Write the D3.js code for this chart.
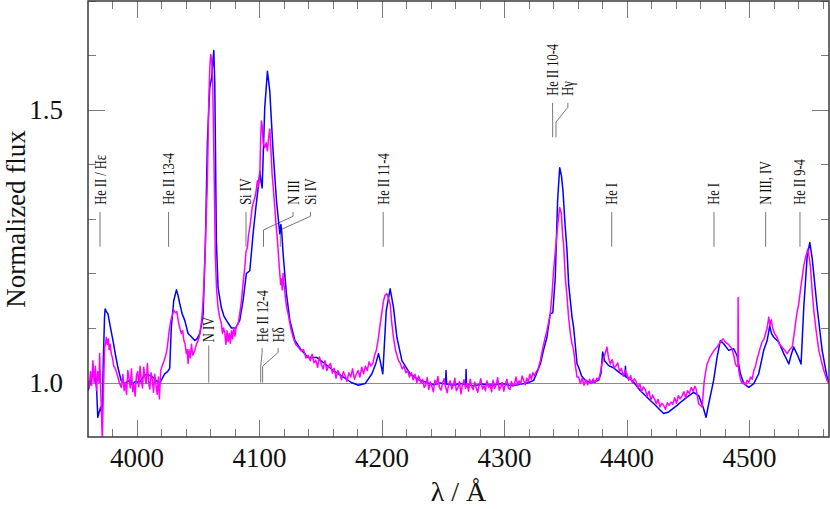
<!DOCTYPE html>
<html>
<head>
<meta charset="utf-8">
<script src="https://d3js.org/d3.v7.min.js"></script>
<style>
  body { margin: 0; background: #fff; }
  svg { display: block; font-family: 'Liberation Serif', 'Times New Roman', serif; }
</style>
</head>
<body>
<script>
// ---- data: [wavelength (A), normalized flux] ----
var blueSpec = [[3960,0.985],[3962,1.0],[3964,1.016],[3966,1.01],[3967,0.99],[3968,0.936],[3969,0.945],[3970.4,0.955],[3971.5,0.94],[3972.5,1.04],[3973.5,1.12],[3974,1.135],[3975,1.13],[3976.3,1.126],[3978,1.105],[3980.4,1.077],[3982.5,1.05],[3984.5,1.027],[3987,1.004],[3990,0.998],[3993,1.003],[3996,0.997],[3999,1.002],[4002,1.0],[4005,1.01],[4008,1.016],[4011,1.012],[4014,1.008],[4016,1.003],[4018.6,0.998],[4020,1.005],[4022.6,1.016],[4025,1.02],[4026.7,1.026],[4028,1.1],[4030,1.15],[4032.2,1.17],[4033.5,1.16],[4034.9,1.145],[4037,1.125],[4039,1.114],[4041.7,1.09],[4044,1.085],[4047.2,1.077],[4049,1.08],[4051.3,1.09],[4053,1.11],[4054,1.126],[4055.9,1.26],[4057.5,1.443],[4059.4,1.541],[4061,1.56],[4062,1.59],[4062.7,1.609],[4063.5,1.55],[4064,1.443],[4064.8,1.26],[4066.2,1.174],[4068.9,1.137],[4071,1.122],[4073,1.114],[4077.1,1.1],[4080.5,1.1],[4083.9,1.114],[4086.6,1.15],[4089.3,1.2],[4092.1,1.205],[4094.8,1.273],[4097,1.32],[4098.9,1.357],[4100.3,1.388],[4101.2,1.37],[4102.2,1.357],[4104.3,1.504],[4106.5,1.571],[4108.4,1.535],[4111.1,1.425],[4113.9,1.333],[4116.6,1.273],[4117.5,1.29],[4118.2,1.275],[4119.3,1.236],[4122,1.163],[4124.8,1.114],[4128.9,1.077],[4134.3,1.059],[4139.7,1.046],[4146.8,1.046],[4153,1.035],[4160.4,1.022],[4168.6,1.01],[4175,1.0],[4180.8,0.995],[4186.3,0.998],[4191.8,1.016],[4195,1.035],[4197.2,1.053],[4198.5,1.04],[4200.7,1.016],[4203.5,1.132],[4206.7,1.172],[4209.4,1.138],[4212.2,1.083],[4216.3,1.04],[4223,1.016],[4230,1.005],[4236.7,1.0],[4242,0.996],[4248,0.999],[4252,0.997],[4252.3,1.022],[4252.8,0.997],[4258,0.995],[4264,0.998],[4268.4,0.996],[4268.7,1.024],[4269,0.996],[4275,0.994],[4282,0.997],[4290,0.995],[4298,0.998],[4306,0.994],[4314,0.997],[4320,1.0],[4323.8,1.004],[4326,1.015],[4329.3,1.034],[4332,1.06],[4334.7,1.083],[4337.4,1.126],[4339.5,1.128],[4341.5,1.193],[4343.4,1.333],[4345.1,1.394],[4346.5,1.38],[4347.8,1.352],[4349.5,1.29],[4351.1,1.242],[4352.4,1.181],[4355.2,1.12],[4356.5,1.101],[4359.3,1.034],[4360.6,1.028],[4363,1.012],[4366,1.004],[4370.1,1.0],[4374,1.002],[4376.9,1.004],[4378.8,1.016],[4380.2,1.056],[4381.8,1.04],[4385.1,1.031],[4389,1.027],[4393.3,1.019],[4397,1.013],[4398.5,1.012],[4398.8,1.03],[4399.2,1.01],[4401,1.008],[4404.1,1.004],[4407.5,0.995],[4411,0.985],[4415,0.976],[4419.1,0.967],[4422.5,0.96],[4426,0.952],[4430,0.943],[4434.1,0.946],[4437.5,0.952],[4441,0.958],[4445,0.966],[4449.1,0.973],[4454.5,0.982],[4458.6,0.976],[4462.2,0.955],[4464.6,0.936],[4466.8,0.961],[4470.8,1.004],[4473.6,1.046],[4476.3,1.077],[4479,1.071],[4483.1,1.059],[4487.2,1.062],[4490,1.049],[4492.7,1.016],[4495.4,0.998],[4499.5,0.991],[4503.6,0.998],[4507.6,1.016],[4511.7,1.059],[4514.5,1.077],[4516.6,1.104],[4518,1.09],[4519.9,1.083],[4524,1.074],[4528.1,1.053],[4532.2,1.034],[4534,1.05],[4536.2,1.065],[4539.5,1.049],[4542.2,1.034],[4544.4,1.138],[4547.1,1.229],[4549.3,1.257],[4551.2,1.229],[4555.3,1.138],[4559.4,1.059],[4563.4,1.01],[4565,1.0]];

var pinkSpec = [[3960,1.004],[3961,0.99],[3962,1.02],[3963,0.995],[3964,1.04],[3965,1.0],[3966,1.03],[3967,0.985],[3968,1.02],[3969,1.0],[3969.5,1.053],[3970.3,0.99],[3970.8,0.96],[3971.3,0.92],[3971.7,0.895],[3972.2,0.95],[3972.8,1.0],[3973.6,1.065],[3974.3,1.07],[3975,1.083],[3975.8,1.07],[3976.6,1.08],[3977.3,1.06],[3978,1.07],[3979,1.053],[3980,1.045],[3981,1.03],[3981.8,1.028],[3983,1.02],[3984.5,1.01],[3985.5,1.0],[3987.2,0.991],
  [3988.5,1.015],[3989.5,0.985],[3990.5,1.0],[3991.5,0.978],[3992.5,1.022],[3993.5,1.008],[3994.5,0.99],[3995.5,1.025],[3996.5,0.983],[3997.5,0.997],[3998.5,0.975],[3999.5,1.012],[4000.5,1.02],[4001.5,0.992],[4002.5,1.03],[4003.5,1.005],[4004.5,0.99],[4005.5,1.028],[4006.5,1.01],[4007.5,0.998],[4008.5,1.035],[4009.5,1.0],[4010.5,0.988],[4011.5,1.018],[4012.5,1.005],[4013.5,0.982],[4014.5,1.015],[4015.5,0.995],[4016.5,0.978],[4017.5,1.01],[4018.3,0.97],[4019.4,1.022],
  [4020.5,1.03],[4022.1,1.04],[4023.5,1.05],[4024.8,1.065],[4026,1.09],[4027.6,1.114],[4029,1.125],[4030.3,1.132],[4031.5,1.128],[4032.5,1.13],[4034.1,1.108],[4035,1.1],[4036.2,1.09],[4037.3,1.095],[4038.3,1.077],[4039.3,1.07],[4040.3,1.053],[4041,1.06],[4041.7,1.035],[4042.5,1.06],[4043.5,1.045],[4044.5,1.07],[4045.5,1.05],[4047.2,1.059],[4048.5,1.07],[4049.9,1.077],[4051,1.085],[4052,1.1],[4053,1.12],[4054,1.15],[4055,1.2],[4055.9,1.26],[4057.5,1.37],[4058.6,1.516],[4059.5,1.58],[4060.2,1.602],[4061,1.59],[4061.8,1.553],[4063,1.383],[4064,1.229],[4065,1.17],[4066.2,1.137],[4067.5,1.12],[4068.9,1.108],[4069.8,1.09],[4070.7,1.1],[4071.7,1.09],[4072.6,1.07],[4073.5,1.095],[4074.4,1.075],[4075.3,1.09],[4076.2,1.072],[4077.1,1.095],[4078,1.08],[4079,1.1],[4080,1.085],[4081,1.102],[4082.5,1.108],[4083.5,1.12],[4085.3,1.15],[4086.5,1.18],[4088,1.211],[4089,1.24],[4090.2,1.248],[4091,1.27],[4092.1,1.284],[4093,1.3],[4094,1.321],[4095,1.33],[4096.2,1.339],[4097.2,1.35],[4098.3,1.37],[4099.2,1.36],[4100.3,1.383],[4101,1.45],[4101.6,1.48],[4102.3,1.47],[4103,1.44],[4104.3,1.431],[4105.5,1.44],[4106.5,1.425],[4107.5,1.45],[4108.4,1.465],[4109.3,1.43],[4110.3,1.383],[4111.5,1.35],[4112.5,1.321],[4113.5,1.29],[4114.7,1.26],[4115.6,1.23],[4116.6,1.2],[4117.3,1.18],[4118,1.19],[4118.6,1.17],[4119.3,1.2],[4120,1.18],[4121,1.16],[4122,1.14],[4123.4,1.126],[4125.5,1.1],[4127.5,1.083],[4129.5,1.07],[4131.6,1.065],[4134,1.058],[4136,1.06],[4138,1.045],[4139.7,1.05],
  [4141.5,1.04],[4143,1.052],[4144.5,1.036],[4146,1.041],[4147.5,1.028],[4149,1.047],[4150.5,1.033],[4152,1.025],[4153.5,1.04],[4155,1.022],[4156.5,1.03],[4158,1.035],[4159.5,1.017],[4161,1.026],[4162.5,1.008],[4164,1.022],[4165.5,1.015],[4167,1.005],[4168.5,1.02],[4170,1.012],[4171.5,1.002],[4173,1.018],[4174.5,1.01],[4176,1.025],[4177.5,1.006],[4179,1.015],[4180.5,1.022],[4182,1.01],[4183.5,1.028],[4185,1.016],[4186.5,1.03],[4188,1.022],[4189.5,1.038],[4191,1.03],[4192.5,1.035],[4194,1.05],[4195.5,1.06],[4197,1.08],[4198.6,1.108],[4200,1.13],[4201.3,1.15],[4202.5,1.16],[4204,1.163],[4205.3,1.155],[4206.7,1.144],[4208,1.11],[4209.4,1.083],[4211,1.06],[4213.5,1.04],[4215,1.035],[4216.5,1.025],[4218,1.03],[4219.5,1.018],[4221,1.022],[4222.5,1.01],[4224,1.018],[4225.5,1.005],[4227,1.015],[4228.5,1.0],[4230,1.012],
  [4232,0.998],[4233.2,1.006],[4234.5,0.991],[4235.7,0.995],[4237,1.009],[4238.2,0.987],[4239.5,1.001],[4240.7,0.993],[4242,0.983],[4243.2,1.004],[4244.5,0.996],[4245.7,1.011],[4247,0.99],[4248.2,0.986],[4249.5,0.999],[4250.7,1.007],[4252,0.992],[4253.2,0.981],[4254.5,0.997],[4255.7,1.003],[4257,0.988],[4258.2,0.994],[4259.5,1.008],[4260.7,0.985],[4262,0.99],[4263.2,1.002],[4264.5,0.979],[4265.7,0.995],[4267,1.005],[4268.2,0.989],[4269.5,0.998],[4270.7,0.984],[4272,1.006],[4273.2,0.993],[4274.5,0.987],[4275.7,1.001],[4277,0.99],[4278.2,0.982],[4279.5,0.996],[4280.7,1.007],[4282,0.988],[4283.2,0.994],[4284.5,0.985],[4285.7,1.003],[4287,0.991],[4288.2,0.997],[4289.5,0.983],[4290.7,1.004],[4292,0.989],[4293.2,0.995],[4294.5,1.009],[4295.7,0.986],[4297,0.992],[4298.2,1.0],[4299.5,0.984],[4300.7,0.997],[4302,1.006],[4303.2,0.99],[4304.5,0.987],[4305.7,1.002],[4307,0.993],[4308.2,0.998],[4309.5,1.01],[4310.7,0.995],[4312,1.003],[4313.2,0.997],[4314.5,1.012],[4315.7,1.004],[4317,0.996],[4318.2,1.008],[4319.5,1.001],[4320.7,1.015],[4322,1.006],[4323.2,1.018],[4324.5,1.012],
  [4326,1.02],[4327.5,1.025],[4329.3,1.04],[4331,1.06],[4333,1.08],[4334.7,1.095],[4336,1.11],[4337.4,1.126],[4338.8,1.16],[4340.1,1.205],[4341.5,1.24],[4342.9,1.273],[4344,1.3],[4345.1,1.321],[4346.5,1.31],[4347.5,1.27],[4348.3,1.254],[4349.7,1.193],[4351,1.16],[4352.4,1.12],[4353.8,1.09],[4355.2,1.071],[4356.5,1.059],[4358,1.03],[4359.3,1.01],[4360.6,1.01],[4362,0.998],[4363.5,1.008],[4365,0.995],[4366.5,1.005],[4368,0.996],[4369.5,1.006],[4371,0.998],[4372.5,1.007],[4374,0.999],[4375.5,1.008],[4377,1.005],[4378.5,1.02],[4379.6,1.034],[4381,1.045],[4382.5,1.055],[4383.7,1.065],[4385,1.045],
  [4386.5,1.034],[4388,1.042],[4389.5,1.027],[4391,1.03],[4392.5,1.036],[4394,1.02],[4395.5,1.026],[4397,1.012],[4398.5,1.022],[4400,1.016],[4401.5,1.004],[4403,1.013],[4404.5,0.999],[4406,1.007],[4407.5,1.002],[4409,0.99],[4410.5,0.998],[4412,0.984],[4413.5,0.992],[4415,0.987],[4416.5,0.975],[4418,0.984],[4419.5,0.968],[4421,0.977],[4422.5,0.97],[4424,0.961],[4425.5,0.969],[4427,0.955],[4428.5,0.962],[4430,0.958],[4431.5,0.951],[4433,0.963],[4434.5,0.958],[4436,0.964],[4437.5,0.96],[4439,0.972],[4440.5,0.962],[4442,0.976],[4443.5,0.97],[4445,0.975],[4446.5,0.983],[4448,0.972],[4449.5,0.985],[4451,0.98],[4452.5,0.991],[4454,0.984],[4455.5,0.993],[4456.5,0.988],
  [4457.5,0.975],[4458.6,0.961],[4460,0.958],[4461.4,0.955],[4462.3,0.98],[4463.2,1.004],[4464.3,1.02],[4465.5,1.034],[4467.5,1.045],[4469.5,1.053],[4471.5,1.06],[4473.6,1.065],[4475,1.07],[4476.5,1.075],[4478.5,1.08],[4480,1.075],[4481.5,1.072],[4483,1.07],[4484.5,1.065],[4485.8,1.062],[4487.2,1.05],[4488.6,1.034],[4489.5,1.03],[4490.6,1.03],[4490.8,1.156],[4491.1,1.03],[4491.3,1.022],[4492.5,1.008],[4494,0.998],[4495.5,1.0],[4496.8,0.995],[4498.1,1.004],[4499.5,1.0],[4501,1.01],[4502.3,1.006],[4503.6,1.022],[4505,1.03],[4506.5,1.045],[4507.8,1.055],[4509,1.065],[4510.5,1.075],[4512,1.08],[4513.1,1.089],[4514.5,1.1],[4515.8,1.12],[4516.8,1.105],[4517.8,1.115],[4519,1.1],[4520.5,1.09],[4522.6,1.083],[4524.5,1.07],[4526.7,1.065],[4528.5,1.06],[4530.8,1.053],[4532.8,1.06],[4534.9,1.065],[4536.3,1.085],[4537.6,1.108],[4539,1.13],[4540.3,1.144],[4541.7,1.17],[4543.1,1.193],[4544.5,1.215],[4545.8,1.229],[4547.7,1.245],[4548.8,1.23],[4549.9,1.211],[4551.2,1.17],[4552.6,1.132],[4554.5,1.095],[4556.7,1.059],[4558.7,1.04],[4560.8,1.022],[4563.4,1.004],[4565,0.998]];

var xTickLabels = [4000, 4100, 4200, 4300, 4400, 4500];
var yTickLabels = [1.0, 1.5];

// line identifications: label, wavelength of the marker foot
var lineNames = ["He II / H\u03b5", "He II 13-4", "Si IV", "N III", "Si IV", "N IV",
                 "He II 12-4", "H\u03b4", "He II 11-4", "He II 10-4", "H\u03b3",
                 "He I", "He I", "N III, IV", "He II 9-4"];
var lineWaves = [3969.8, 4025.8, 4089.0, 4103.3, 4117.0, 4058.6,
                 4101.0, 4102.6, 4201.0, 4339.4, 4342.1,
                 4387.6, 4471.1, 4513.3, 4541.3];

// ---- layout ----
var W = 830, H = 509;
var padL = 88, padR = 829, padT = 1, padB = 437;

var svg = d3.select("body").append("svg")
    .attr("width", W)
    .attr("height", H);

var x = d3.scaleLinear().domain([3960, 4565]).range([padL, padR]);
var y = d3.scaleLinear().domain([0.9, 1.7]).range([padB, padT]);

svg.append("clipPath").attr("id", "plotclip")
  .append("rect")
    .attr("x", padL).attr("y", padT)
    .attr("width", padR - padL).attr("height", padB - padT);

// ticks (inward, on all four sides)
var ticks = svg.append("g").attr("stroke", "#7a7a7a").attr("stroke-width", 1);
d3.range(3980, 4565, 20).forEach(function(v) {
  var len = (v % 100 === 0) ? 17 : 8;
  var px = Math.round(x(v)) + 0.5;
  ticks.append("line").attr("x1", px).attr("x2", px).attr("y1", padB).attr("y2", padB - len);
  ticks.append("line").attr("x1", px).attr("x2", px).attr("y1", padT).attr("y2", padT + len);
});
d3.range(1.1, 1.71, 0.1).forEach(function(v) {
  var major = Math.abs(v - 1.5) < 1e-6;
  var len = major ? 17 : 8;
  var py = Math.round(y(v)) + 0.5;
  ticks.append("line").attr("y1", py).attr("y2", py).attr("x1", padL).attr("x2", padL + len);
  ticks.append("line").attr("y1", py).attr("y2", py).attr("x1", padR).attr("x2", padR - len);
});

// continuum level
svg.append("line")
  .attr("x1", padL).attr("x2", padR)
  .attr("y1", Math.round(y(1.0)) + 0.5).attr("y2", Math.round(y(1.0)) + 0.5)
  .attr("stroke", "#8a8a8a").attr("stroke-width", 1);

// ---- line identification markers ----
// rows in flux units: [text start, marker top, elbow, marker bottom]
var rowTop  = [1.326, 1.313, 1.280, 1.249];
var rowLow  = [1.074, 1.068, 1.030, 1.000];
var rowHigh = [1.526, 1.513, 1.478, 1.450];
var tagRow  = [rowTop, rowTop, rowTop, rowTop, rowTop, rowLow,
               rowLow, rowLow, rowTop, rowHigh, rowHigh,
               rowTop, rowTop, rowTop, rowTop];
var tagTextWave = [3969.8, 4025.8, 4089.0, 4127.4, 4141.6, 4058.6,
                   4102.2, 4115.2, 4201.0, 4339.3, 4351.8,
                   4387.6, 4471.1, 4513.3, 4541.3];

var marker = d3.line().x(function(d) { return x(d[0]); }).y(function(d) { return y(d[1]); });
var tags = svg.append("g");
lineNames.forEach(function(name, i) {
  var r = tagRow[i], w0 = lineWaves[i], w1 = tagTextWave[i];
  var pts;
  if (Math.abs(w0 - w1) < 0.01) {
    pts = [[w0, r[3]], [w0, r[1]]];
  } else {
    var topEnd = (r === rowLow) ? r[1] - 0.005 : r[1];
    pts = [[w0, r[3]], [w0, r[2]], [w1, topEnd - 0.008], [w1, topEnd]];
  }
  tags.append("path")
    .attr("d", marker(pts))
    .attr("fill", "none")
    .attr("stroke", "#777")
    .attr("stroke-width", 1);
  tags.append("text")
    .attr("transform", "translate(" + (x(w1) + 5.5) + "," + y(r[0]) + ") rotate(-90) scale(0.78,1)")
    .attr("font-size", 16)
    .attr("fill", "#111")
    .text(name);
});

// ---- spectra ----
var spec = d3.line()
  .x(function(d) { return x(d[0]); })
  .y(function(d) { return y(d[1]); });

var plot = svg.append("g").attr("clip-path", "url(#plotclip)");
plot.append("path")
  .datum(blueSpec)
  .attr("d", spec)
  .attr("fill", "none")
  .attr("stroke", "#0000ff")
  .attr("stroke-width", 1.5)
  .attr("stroke-linejoin", "round");
plot.append("path")
  .datum(pinkSpec)
  .attr("d", spec)
  .attr("fill", "none")
  .attr("stroke", "#ff00ff")
  .attr("stroke-width", 1.5)
  .attr("stroke-linejoin", "round");

// frame
svg.append("rect")
  .attr("x", padL).attr("y", padT)
  .attr("width", padR - padL).attr("height", padB - padT)
  .attr("fill", "none")
  .attr("stroke", "#3a3a3a")
  .attr("stroke-width", 1.5);

// tick labels
svg.append("g").selectAll("text")
  .data(xTickLabels)
  .enter().append("text")
    .attr("x", function(d) { return x(d); })
    .attr("y", 467)
    .attr("text-anchor", "middle")
    .attr("font-size", 27)
    .attr("fill", "#111")
    .text(function(d) { return d; });

svg.append("g").selectAll("text")
  .data(yTickLabels)
  .enter().append("text")
    .attr("x", 63)
    .attr("y", function(d) { return y(d) + 9; })
    .attr("text-anchor", "end")
    .attr("font-size", 27)
    .attr("fill", "#111")
    .text(function(d) { return d.toFixed(1); });

// axis titles
svg.append("text")
  .attr("x", (padL + padR) / 2)
  .attr("y", 501)
  .attr("text-anchor", "middle")
  .attr("font-size", 28)
  .attr("fill", "#111")
  .text("\u03bb / \u00c5");

svg.append("text")
  .attr("transform", "translate(25," + (padT + padB) / 2 + ") rotate(-90)")
  .attr("text-anchor", "middle")
  .attr("font-size", 27)
  .attr("fill", "#111")
  .text("Normalized flux");
</script>
</body>
</html>
